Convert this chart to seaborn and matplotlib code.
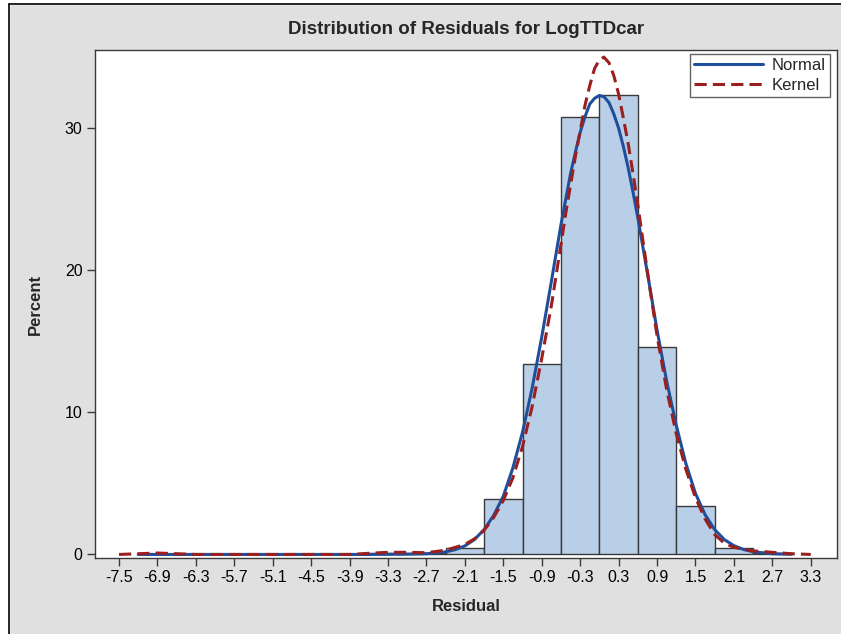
import numpy as np
import pandas as pd
import seaborn as sns
import matplotlib.pyplot as plt
from matplotlib.lines import Line2D

# histogram: bin centers (bin width 0.6) and percent of residuals
bin_centers = [-6.9, -3.3, -2.7, -2.1, -1.5, -0.9, -0.3, 0.3, 0.9, 1.5, 2.1, 2.7]
bin_percent = [0.05, 0.1, 0.1, 0.45, 3.9, 13.4, 30.8, 32.3, 14.6, 3.4, 0.45, 0.1]

# fitted normal curve
normal_x = [-7.2, -6.0, -4.8, -3.6, -3.0, -2.7, -2.4, -2.25, -2.1, -1.95, -1.8, -1.65, -1.5,
            -1.35, -1.2, -1.05, -0.9, -0.75, -0.6, -0.525, -0.45, -0.375, -0.3, -0.225,
            -0.15, -0.075, 0.0, 0.075, 0.15, 0.225, 0.3, 0.375, 0.45, 0.525, 0.6, 0.75,
            0.9, 1.05, 1.2, 1.35, 1.5, 1.65, 1.8, 1.95, 2.1, 2.25, 2.4, 2.7, 3.0]
normal_y = [0.0, 0.0, 0.0, 0.0, 0.02, 0.05, 0.18, 0.34, 0.6, 1.05, 1.75, 2.75, 4.1,
            6.1, 8.6, 11.7, 15.3, 19.2, 23.2, 25.0, 26.8, 28.3, 29.7, 30.8,
            31.7, 32.1, 32.3, 32.2, 31.8, 31.0, 30.0, 28.7, 27.2, 25.5, 23.7, 19.8,
            15.8, 12.2, 9.1, 6.4, 4.3, 2.8, 1.75, 1.05, 0.62, 0.35, 0.19, 0.05, 0.01]

# kernel density curve
kernel_x = [-7.5, -7.2, -6.9, -6.6, -6.3, -5.7, -5.1, -4.5, -3.9, -3.6, -3.3, -3.0, -2.7,
            -2.4, -2.1, -1.95, -1.8, -1.65, -1.5, -1.35, -1.2, -1.05, -0.9, -0.75, -0.6,
            -0.525, -0.45, -0.375, -0.3, -0.225, -0.15, -0.075, 0.0, 0.07, 0.15, 0.225,
            0.3, 0.375, 0.45, 0.525, 0.6, 0.75, 0.9, 1.05, 1.2, 1.35, 1.5, 1.65, 1.8,
            1.95, 2.1, 2.4, 2.7, 3.0, 3.3]
kernel_y = [0.0, 0.05, 0.1, 0.05, 0.0, 0.0, 0.0, 0.0, 0.0, 0.08, 0.15, 0.15, 0.12,
            0.3, 0.7, 1.1, 1.7, 2.6, 3.8, 5.4, 7.6, 10.4, 13.8, 17.5, 21.8,
            24.0, 26.0, 28.0, 29.8, 31.6, 33.0, 34.2, 34.8, 35.0, 34.6, 33.7,
            32.4, 30.7, 28.9, 26.8, 24.6, 19.9, 15.4, 11.6, 8.5, 6.0, 4.0, 2.5, 1.4,
            0.8, 0.5, 0.25, 0.15, 0.05, 0.0]

x_ticks = np.round(np.arange(-7.5, 3.31, 0.6), 1)

sns.set_theme(style='white')
plt.rcParams['font.family'] = ['Liberation Sans', 'DejaVu Sans']

bg = '#e0e0e0'
fig = plt.figure(figsize=(8.41, 6.34), dpi=100, facecolor=bg)
ax = fig.add_axes([95 / 841, 76 / 634, 742 / 841, 508 / 634])
ax.set_facecolor('white')

hist_df = pd.DataFrame({'center': bin_centers, 'percent': bin_percent})
sns.histplot(data=hist_df, x='center', weights='percent', binwidth=0.6,
             binrange=(-7.2, 3.0), ax=ax, color='#b9cfe8', edgecolor='#3a3a3a',
             linewidth=1.0, alpha=1)

sns.lineplot(x=normal_x, y=normal_y, ax=ax, color='#1f4f9b', linewidth=2.2,
             label='Normal', sort=False)
sns.lineplot(x=kernel_x, y=kernel_y, ax=ax, color='#9b1f1f', linewidth=2.2,
             linestyle=(0, (4, 2)), label='Kernel', sort=False)

ax.set_xlim(-7.875, 3.71)
ax.set_ylim(-0.25, 35.5)
ax.set_xticks(x_ticks)
ax.set_xticklabels([f'{t:.1f}' for t in x_ticks])
ax.set_yticks([0, 10, 20, 30])
ax.tick_params(axis='both', direction='out', length=5.5, width=1, color='#3a3a3a',
               labelsize=11.5, labelcolor='black', bottom=True, left=True, pad=3.5)
for s in ax.spines.values():
    s.set_color('#3a3a3a')
    s.set_linewidth(1.0)

ax.set_xlabel('Residual', fontsize=12, fontweight='bold')
ax.set_ylabel('Percent', fontsize=12, fontweight='bold')
ax.xaxis.set_label_coords(0.5, (558 - 599) / 508)
ax.yaxis.set_label_coords((43 - 95) / 742, 0.5)
fig.text(466 / 841, 1 - 30 / 634, 'Distribution of Residuals for LogTTDcar',
         ha='center', va='center', fontsize=13.5, fontweight='bold')

leg = ax.legend(loc='upper right', bbox_to_anchor=((830 - 95) / 742, (558 - 54) / 508),
                fontsize=12, handlelength=4.1, frameon=True, fancybox=False,
                edgecolor='#3a3a3a', borderpad=0.25, labelspacing=0.3,
                borderaxespad=0, handletextpad=0.55)
leg.get_frame().set_linewidth(1.0)

# outer frame lines (left and top)
fig.add_artist(Line2D([9 / 841, 9 / 841], [0, 1 - 4 / 634], transform=fig.transFigure,
                      color='black', linewidth=1.2))
fig.add_artist(Line2D([9 / 841, 1], [1 - 4 / 634, 1 - 4 / 634], transform=fig.transFigure,
                      color='black', linewidth=1.2))
fig.patches.append(plt.Rectangle((0, 0), 9 / 841, 1, transform=fig.transFigure,
                                 color='white', zorder=-1))
fig.patches.append(plt.Rectangle((0, 1 - 4 / 634), 1, 4 / 634, transform=fig.transFigure,
                                 color='white', zorder=-1))

fig.savefig('out.png', dpi=100, facecolor=bg)
